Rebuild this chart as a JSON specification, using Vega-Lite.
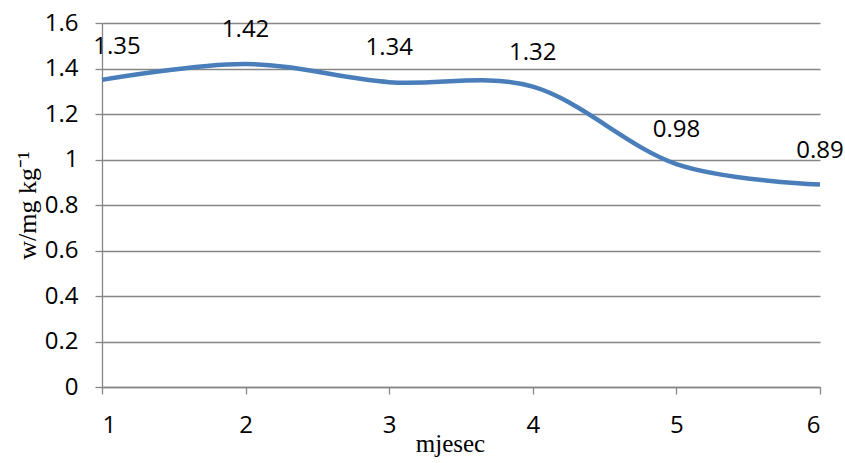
{
  "$schema": "https://vega.github.io/schema/vega-lite/v6.json",
  "width": 718,
  "height": 364,
  "autosize": "none",
  "padding": {"left": 102, "top": 23, "right": 25, "bottom": 76},
  "background": "white",
  "config": {"view": {"stroke": null}},
  "data": {"values": [
    {"mjesec": 1, "w": 1.35},
    {"mjesec": 2, "w": 1.42},
    {"mjesec": 3, "w": 1.34},
    {"mjesec": 4, "w": 1.32},
    {"mjesec": 5, "w": 0.98},
    {"mjesec": 6, "w": 0.89}
  ]},
  "encoding": {
    "x": {"field": "mjesec", "type": "quantitative",
      "scale": {"domain": [1, 6], "nice": false, "zero": false},
      "axis": {"title": "mjesec", "values": [1, 2, 3, 4, 5, 6], "format": "d", "grid": false,
        "domainColor": "#868686", "domainWidth": 1.3, "tickColor": "#868686", "tickSize": 7, "tickWidth": 1.3,
        "labelFont": "Open Sans", "labelFontSize": 24, "labelColor": "#000000", "labelPadding": 19,
        "titleFont": "Liberation Serif", "titleFontSize": 25, "titleFontWeight": "normal", "titleColor": "#000000",
        "titlePadding": -6, "titleX": 348}},
    "y": {"field": "w", "type": "quantitative",
      "scale": {"domain": [0, 1.6], "nice": false},
      "axis": {"title": "w/mg kg⁻¹", "values": [0, 0.2, 0.4, 0.6, 0.8, 1, 1.2, 1.4, 1.6], "format": "~g",
        "grid": true, "gridColor": "#868686", "gridWidth": 1.3,
        "domainColor": "#868686", "domainWidth": 1.3, "tickColor": "#868686", "tickSize": 7, "tickWidth": 1.3,
        "labelFont": "Open Sans", "labelFontSize": 24, "labelColor": "#000000", "labelPadding": 17,
        "titleFont": "Liberation Serif", "titleFontSize": 26, "titleFontWeight": "normal", "titleColor": "#000000",
        "titlePadding": 4}}
  },
  "layer": [
    {"mark": {"type": "line", "interpolate": "cardinal", "tension": 0, "color": "#4A7EBB", "strokeWidth": 4.5}},
    {"transform": [{"filter": "datum.mjesec > 1"}],
     "mark": {"type": "text", "dy": -34, "font": "Open Sans", "fontSize": 24, "color": "#000000"},
     "encoding": {"text": {"field": "w", "type": "quantitative", "format": ".2f"}}},
    {"transform": [{"filter": "datum.mjesec == 1"}],
     "mark": {"type": "text", "dy": -33, "dx": 15, "font": "Open Sans", "fontSize": 24, "color": "#000000"},
     "encoding": {"text": {"field": "w", "type": "quantitative", "format": ".2f"}}}
  ]
}
